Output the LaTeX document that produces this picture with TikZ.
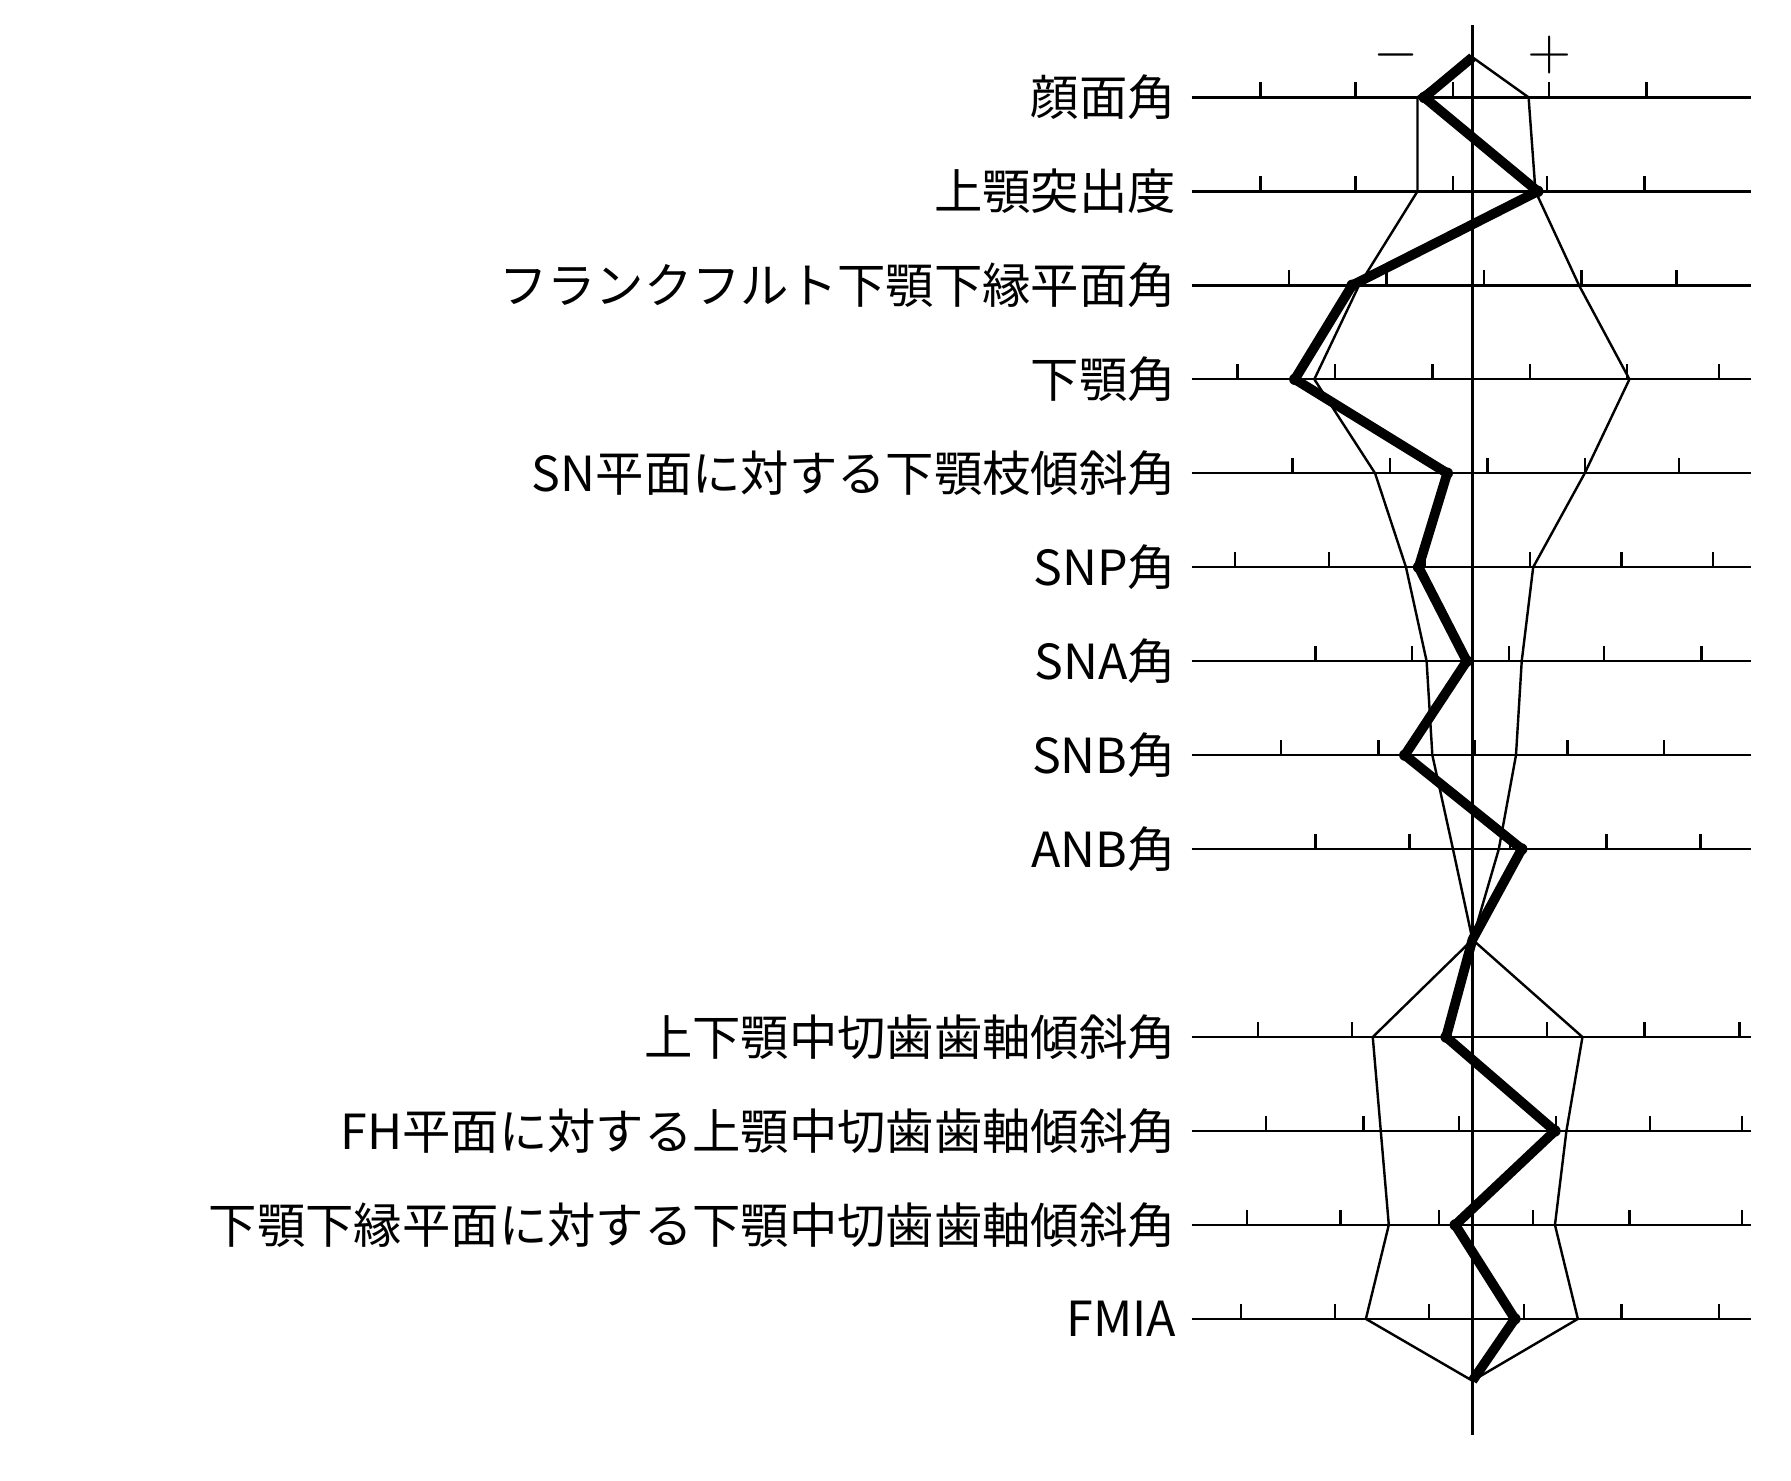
\documentclass[tikz,border=0pt]{standalone}
\usepackage{fontspec}
\setmainfont{Liberation Serif}
\newfontfamily\cjk{Noto Sans CJK JP}
\begin{document}
\begin{tikzpicture}[x=0.01cm,y=-0.01cm,
  rowlabel/.style={anchor=east,inner sep=0pt,font=\fontsize{12}{12}\selectfont\cjk},
  thin line/.style={line width=.6pt},
  profile/.style={line width=2.4pt,line join=round}]
\useasboundingbox (0,0) rectangle (1563,1292);
% axis and signs
\draw [thin line] (1285,22) -- (1285,1252);
\node [font=\Large] at (1218,48) {$-$};
\node [font=\Large] at (1352,48) {$+$};
% rows: y / label / ticks
\foreach \y/\lab/\ticks in {
  85/顔面角/{1100,1183,1268,1352,1437},
  167/上顎突出度/{1100,1183,1268,1350,1435},
  249/フランクフルト下顎下縁平面角/{1125,1210,1295,1380,1463},
  331/下顎角/{1080,1165,1250,1335,1420,1500},
  413/SN平面に対する下顎枝傾斜角/{1128,1213,1298,1383,1465},
  495/SNP角/{1078,1160,1243,1335,1415,1495},
  577/SNA角/{1148,1232,1317,1400,1485},
  659/SNB角/{1118,1203,1287,1368,1452},
  741/ANB角/{1148,1230,1318,1402,1484},
  905/上下顎中切歯歯軸傾斜角/{1098,1180,1265,1350,1435,1518},
  987/FH平面に対する上顎中切歯歯軸傾斜角/{1105,1190,1273,1358,1440,1520},
  1069/下顎下縁平面に対する下顎中切歯歯軸傾斜角/{1088,1170,1256,1338,1422,1520},
  1151/FMIA/{1083,1165,1247,1330,1415,1500}}{
  \node [rowlabel] (l\y) at (1027,\y) {\lab};
  \draw [thin line] (1040,\y) -- (1528,\y);
  \foreach \t in \ticks
    \draw [thin line] (\t,\y) -- (\t,\y-13);
}
% norm envelope
\draw [thin line] (1285,50) -- (1237,85) -- (1237,167) -- (1186,249) -- (1147,331)
  -- (1200,413) -- (1227,495) -- (1245,577) -- (1250,659) -- (1268,741)
  -- (1285,820) -- (1198,905) -- (1205,987) -- (1212,1069) -- (1192,1151) -- (1285,1205);
\draw [thin line] (1285,50) -- (1334,85) -- (1340,167) -- (1378,249) -- (1422,331)
  -- (1383,413) -- (1338,495) -- (1328,577) -- (1323,659) -- (1308,741)
  -- (1285,820) -- (1381,905) -- (1367,987) -- (1357,1069) -- (1377,1151) -- (1285,1205);
% patient profile
\draw [profile] (1285,50) -- (1243,85) -- (1342,167) -- (1180,249) -- (1130,331)
  -- (1263,413) -- (1238,495) -- (1280,577) -- (1226,659) -- (1328,741)
  -- (1285,820) -- (1262,905) -- (1357,987) -- (1270,1069) -- (1322,1151) -- (1285,1205);
\foreach \p in {(1243,85),(1342,167),(1180,249),(1130,331),(1263,413),(1238,495),
  (1280,577),(1226,659),(1328,741),(1262,905),(1357,987),(1270,1069),(1322,1151)}
  \fill \p circle (5);
\end{tikzpicture}
\end{document}
